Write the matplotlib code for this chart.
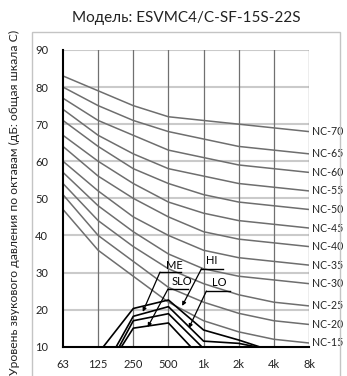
import numpy as np
import matplotlib
matplotlib.use("Agg")
import matplotlib.pyplot as plt
from matplotlib.patches import Rectangle

plt.rcParams["font.family"] = ["Lato", "DejaVu Sans"]

# октавные полосы
BANDS = ["63", "125", "250", "500", "1k", "2k", "4k", "8k"]

# кривые NC (дБ по октавам)
NC_NAMES = ["NC-15", "NC-20", "NC-25", "NC-30", "NC-35", "NC-40",
            "NC-45", "NC-50", "NC-55", "NC-60", "NC-65", "NC-70"]
NC_LEVELS = [
    [47, 36, 29, 22, 17, 14, 12, 11],
    [51, 40, 33, 26, 22, 19, 17, 16],
    [54, 44, 37, 31, 27, 24, 22, 21],
    [57, 48, 41, 35, 31, 29, 28, 27],
    [60, 52, 45, 40, 36, 34, 33, 32],
    [64, 56, 50, 45, 41, 39, 38, 37],
    [67, 60, 54, 49, 46, 44, 43, 42],
    [71, 64, 58, 54, 51, 49, 48, 47],
    [74, 67, 62, 58, 56, 54, 53, 52],
    [77, 71, 67, 63, 61, 59, 58, 57],
    [80, 75, 71, 68, 66, 64, 63, 62],
    [83, 79, 75, 72, 71, 70, 69, 68],
]

# уровни блока по скоростям вентилятора
nan = np.nan
HI = [nan, 8.2, 20.3, 22.6, 14.5, 11.8, 8.7, nan]
ME = [nan, 1.3, 18.2, 20.8, 11.5, 10.9, 9.0, nan]
LO = [nan, -0.5, 17.0, 18.9, 9.5, nan, nan, nan]
SLO = [nan, 0.1, 15.0, 16.4, 6.3, nan, nan, nan]

x = np.arange(len(BANDS))

fig = plt.figure(figsize=(3.47, 3.76), dpi=100)
ax = fig.add_axes([63 / 347, 1 - 346.7 / 376, 246 / 347, 296.7 / 376])

# сетка
for v in range(20, 100, 10):
    ax.axhline(v, color="#cacaca", lw=1.5, zorder=1)
for xi in x[1:]:
    ax.axvline(xi, color="#707070", lw=0.9, zorder=1)

for name, lv in zip(NC_NAMES, NC_LEVELS):
    ax.plot(x, lv, color="#6e6e6e", lw=1.1, zorder=2)
    ax.text(x[-1] + 0.08, lv[-1], name, fontsize=7.6, color="#222222",
            ha="left", va="center", clip_on=False)

for lv in (HI, ME, LO, SLO):
    ax.plot(x, lv, color="black", lw=1.2, zorder=3)

# подписи скоростей со стрелками
labels = [
    ("ME", (3.18, 32.0), (2.76, 3.37, 30.1), (2.27, 19.4)),
    ("HI", (4.22, 33.2), (3.94, 4.55, 31.0), (3.39, 21.0)),
    ("SLO", (3.37, 27.5), (2.99, 3.56, 25.6), (2.41, 15.3)),
    ("LO", (4.46, 27.3), (4.08, 4.74, 25.0), (3.58, 15.0)),
]
for txt, tpos, (u0, u1, uy), tip in labels:
    ax.text(tpos[0], tpos[1], txt, fontsize=8, ha="center", va="center",
            zorder=5)
    ax.plot([u0, u1], [uy, uy], color="black", lw=1.0, zorder=5)
    ax.annotate("", xy=tip, xytext=(u0, uy),
                arrowprops=dict(arrowstyle="-|>", color="black", lw=0.9,
                                mutation_scale=5.5, shrinkA=0, shrinkB=0),
                zorder=5)

ax.set_xlim(0, 7)
ax.set_ylim(10, 90)
ax.set_xticks(x)
ax.set_xticklabels(BANDS)
ax.set_yticks(range(10, 100, 10))
ax.tick_params(length=0, labelsize=8, colors="#222222")
ax.tick_params(axis="x", pad=8.5)
for s in ax.yaxis.get_ticklabels():
    s.set_horizontalalignment("left")
ax.yaxis.set_tick_params(pad=20)
ax.spines["top"].set_visible(False)
ax.spines["right"].set_visible(False)
ax.spines["left"].set_color("black")
ax.spines["left"].set_linewidth(1.5)
ax.spines["bottom"].set_color("black")
ax.spines["bottom"].set_linewidth(1.5)
ax.set_facecolor("none")

fig.patches.append(Rectangle((32 / 347, -0.1), 308 / 347, 1.1 - 32 / 376,
                             transform=fig.transFigure, fill=False,
                             edgecolor="#c4c4c4", lw=1.0))

fig.text(186.7 / 347, 1 - 18 / 376, "Модель: ESVMC4/C-SF-15S-22S",
         ha="center", va="center", fontsize=11, color="#222222")
fig.text(14 / 347, 1 - 202 / 376,
         "Уровень звукового давления по октавам (дБ: общая шкала С)",
         rotation=90, ha="center", va="center", fontsize=8.7,
         color="#222222")

fig.savefig("out.png", dpi=100, facecolor="white")
